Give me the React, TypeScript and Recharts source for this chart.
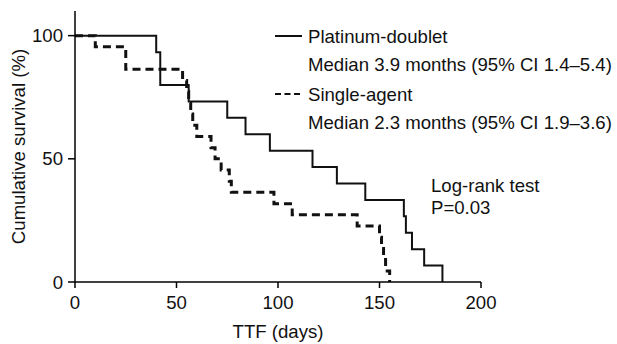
import { LineChart, Line, XAxis, YAxis } from 'recharts'

// Kaplan-Meier steps (day of event -> survival % after it)
const platinumDays = [0, 40, 42, 56, 75, 84, 96, 117, 129, 143, 162, 163, 166, 172, 181]
const platinumSurvival = [100, 93.3, 80, 73.3, 66.7, 60, 53.3, 46.7, 40, 33.3, 26.7, 20, 13.3, 6.7, 0]

const singleDays = [0, 10, 25, 53, 55, 56, 57, 58, 60, 67, 69, 72, 76, 77, 98, 107, 139, 150, 151, 152, 153, 155]
const singleSurvival = [
  100, 95.5, 86.4, 81.8, 77.3, 72.7, 68.2, 63.6, 59.1, 54.5, 50, 45.5, 40.9, 36.4, 31.8, 27.3, 22.7, 18.2,
  13.6, 9.1, 4.5, 0,
]

const xTicks = [0, 50, 100, 150, 200]
const yTicks = [0, 50, 100]

const legendLines = [
  { label: 'Platinum-doublet', sub: 'Median 3.9 months (95% CI 1.4–5.4)', dash: undefined },
  { label: 'Single-agent', sub: 'Median 2.3 months (95% CI 1.9–3.6)', dash: '6 3.5' },
]
const testLines = ['Log-rank test', 'P=0.03']

const platinum = platinumDays.map((day, i) => ({ day, survival: platinumSurvival[i] }))
const single = singleDays.map((day, i) => ({ day, survival: singleSurvival[i] }))

const FONT = '"Liberation Sans", Arial, Helvetica, sans-serif'
const INK = '#111'
const FS = 18.6

export default function App() {
  return (
    <div style={{ position: 'absolute', left: 0, top: 0, width: 617, height: 344, fontFamily: FONT, background: '#fff' }}>
      <LineChart width={617} height={344} margin={{ top: 11, right: 136, bottom: 0, left: 0 }}>
        <XAxis
          type="number"
          dataKey="day"
          domain={[0, 200]}
          ticks={xTicks}
          height={62}
          tickSize={6}
          tickMargin={8}
          axisLine={{ stroke: '#000', strokeWidth: 1.5 }}
          tickLine={{ stroke: '#000', strokeWidth: 1.5 }}
          tick={{ fontSize: FS, fill: INK, fontFamily: FONT }}
          label={{ value: 'TTF (days)', position: 'insideBottom', offset: 6, fontSize: FS, fill: INK, fontFamily: FONT }}
        />
        <YAxis
          type="number"
          dataKey="survival"
          domain={[0, 110]}
          ticks={yTicks}
          width={75}
          tickSize={7}
          tickMargin={5}
          axisLine={{ stroke: '#000', strokeWidth: 1.5 }}
          tickLine={{ stroke: '#000', strokeWidth: 1.5 }}
          tick={{ fontSize: FS, fill: INK, fontFamily: FONT }}
          label={{
            value: 'Cumulative survival (%)',
            angle: -90,
            position: 'insideLeft',
            offset: 18,
            fontSize: FS,
            fill: INK,
            fontFamily: FONT,
            style: { textAnchor: 'middle' },
          }}
        />
        <Line
          data={platinum}
          dataKey="survival"
          type="stepAfter"
          stroke="#111"
          strokeWidth={2}
          dot={false}
          activeDot={false}
          isAnimationActive={false}
        />
        <Line
          data={single}
          dataKey="survival"
          type="stepAfter"
          stroke="#111"
          strokeWidth={3}
          strokeDasharray="8 5"
          dot={false}
          activeDot={false}
          isAnimationActive={false}
        />
      </LineChart>
      <svg width={617} height={344} style={{ position: 'absolute', left: 0, top: 0, pointerEvents: 'none' }}>
        {legendLines.map((l, i) => {
          const y = 36 + i * 58
          return (
            <g key={l.label}>
              <line x1={275} x2={302} y1={y} y2={y} stroke="#111" strokeWidth={2} strokeDasharray={l.dash} />
              <text x={308} y={y + 6.6} fontSize={FS} fill={INK} fontFamily={FONT}>{l.label}</text>
              <text x={308} y={y + 28 + 6.6} fontSize={FS} fill={INK} fontFamily={FONT}>{l.sub}</text>
            </g>
          )
        })}
        {testLines.map((t, i) => (
          <text key={t} x={431} y={191.5 + i * 22} fontSize={FS} fill={INK} fontFamily={FONT}>{t}</text>
        ))}
      </svg>
    </div>
  )
}
